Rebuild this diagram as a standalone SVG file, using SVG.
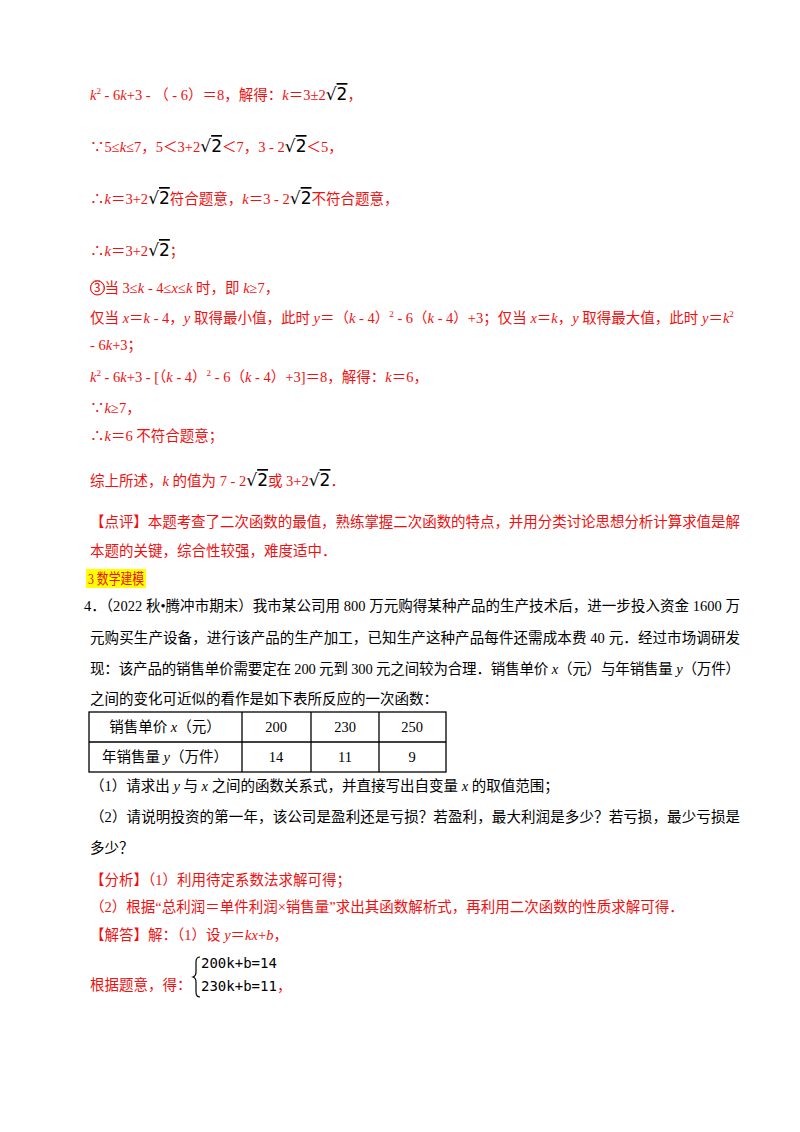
<svg xmlns="http://www.w3.org/2000/svg" width="800" height="1132" viewBox="0 0 800 1132">
<style>
text{font-family:"Liberation Serif","Noto Sans CJK SC",serif;font-size:14.5px;fill:#000}
.r{fill:#f01010}
.i{font-style:italic}
.sq{fill:#000;font-family:"DejaVu Sans",sans-serif;font-size:17px}
.ov{fill:#000;font-family:"DejaVu Sans",sans-serif;font-size:17px;text-decoration:overline}
.cell{fill:none;stroke:#000;stroke-width:1.3}
.eq{font-family:"DejaVu Sans Mono",monospace;font-size:14px}
</style>
<rect width="800" height="1132" fill="#fff"/>
<g id="solution-part1">
<text class="r" x="90" y="100"><tspan class="i">k</tspan><tspan font-size="9" dy="-6">2</tspan><tspan dy="6"> - 6</tspan><tspan class="i">k</tspan>+3 - （ - 6）＝8，解得：<tspan class="i">k</tspan>＝3±2<tspan class="sq">√</tspan><tspan class="ov">2</tspan>，</text>
<text class="r" x="90" y="152">∵5≤<tspan class="i">k</tspan>≤7，5＜3+2<tspan class="sq">√</tspan><tspan class="ov">2</tspan>＜7，3 - 2<tspan class="sq">√</tspan><tspan class="ov">2</tspan>＜5，</text>
<text class="r" x="90" y="204">∴<tspan class="i">k</tspan>＝3+2<tspan class="sq">√</tspan><tspan class="ov">2</tspan>符合题意，<tspan class="i">k</tspan>＝3 - 2<tspan class="sq">√</tspan><tspan class="ov">2</tspan>不符合题意，</text>
<text class="r" x="90" y="256">∴<tspan class="i">k</tspan>＝3+2<tspan class="sq">√</tspan><tspan class="ov">2</tspan>；</text>
<text class="r" x="90" y="293">③当 3≤<tspan class="i">k</tspan> - 4≤<tspan class="i">x</tspan>≤<tspan class="i">k</tspan> 时，即 <tspan class="i">k</tspan>≥7，</text>
<circle cx="97.5" cy="288" r="7" fill="none" stroke="#f01010" stroke-width="1"/>
<text class="r" x="90" y="323">仅当 <tspan class="i">x</tspan>＝<tspan class="i">k</tspan> - 4，<tspan class="i">y</tspan> 取得最小值，此时 <tspan class="i">y</tspan>＝（<tspan class="i">k</tspan> - 4）<tspan font-size="9" dy="-6">2</tspan><tspan dy="6"> - 6（</tspan><tspan class="i">k</tspan> - 4）+3；仅当 <tspan class="i">x</tspan>＝<tspan class="i">k</tspan>，<tspan class="i">y</tspan> 取得最大值，此时 <tspan class="i">y</tspan>＝<tspan class="i">k</tspan><tspan font-size="9" dy="-6">2</tspan></text>
<text class="r" x="90" y="350"> - 6<tspan class="i">k</tspan>+3；</text>
<text class="r" x="90" y="382"><tspan class="i">k</tspan><tspan font-size="9" dy="-6">2</tspan><tspan dy="6"> - 6</tspan><tspan class="i">k</tspan>+3 - [（<tspan class="i">k</tspan> - 4）<tspan font-size="9" dy="-6">2</tspan><tspan dy="6"> - 6（</tspan><tspan class="i">k</tspan> - 4）+3]＝8，解得：<tspan class="i">k</tspan>＝6，</text>
<text class="r" x="90" y="413">∵<tspan class="i">k</tspan>≥7，</text>
<text class="r" x="90" y="441">∴<tspan class="i">k</tspan>＝6 不符合题意；</text>
<text class="r" x="90" y="486">综上所述，<tspan class="i">k</tspan> 的值为 7 - 2<tspan class="sq">√</tspan><tspan class="ov">2</tspan>或 3+2<tspan class="sq">√</tspan><tspan class="ov">2</tspan>．</text>
<text class="r" x="90" y="527" textLength="650" lengthAdjust="spacing">【点评】本题考查了二次函数的最值，熟练掌握二次函数的特点，并用分类讨论思想分析计算求值是解</text>
<text class="r" x="90" y="556">本题的关键，综合性较强，难度适中．</text>
</g>
<g id="heading">
<rect x="86" y="569" width="60" height="19" fill="#ffff00"/>
<text class="r" x="88" y="584" textLength="56" lengthAdjust="spacingAndGlyphs">3 数学建模</text>
</g>
<g id="question4">
<text x="84" y="611" textLength="656" lengthAdjust="spacing">4．（2022 秋•腾冲市期末）我市某公司用 800 万元购得某种产品的生产技术后，进一步投入资金 1600 万</text>
<text x="90" y="643" textLength="650" lengthAdjust="spacing">元购买生产设备，进行该产品的生产加工，已知生产这种产品每件还需成本费 40 元．经过市场调研发</text>
<text x="90" y="674" textLength="650" lengthAdjust="spacing">现：该产品的销售单价需要定在 200 元到 300 元之间较为合理．销售单价 <tspan class="i">x</tspan>（元）与年销售量 <tspan class="i">y</tspan>（万件）</text>
<text x="90" y="704">之间的变化可近似的看作是如下表所反应的一次函数：</text>
</g>
<g id="table">
<rect class="cell" x="89" y="712" width="357" height="60"/>
<line class="cell" x1="89" y1="742" x2="446" y2="742"/>
<line class="cell" x1="242" y1="712" x2="242" y2="772"/>
<line class="cell" x1="311" y1="712" x2="311" y2="772"/>
<line class="cell" x1="379" y1="712" x2="379" y2="772"/>
<text x="165" y="732" text-anchor="middle">销售单价 <tspan class="i">x</tspan>（元）</text>
<text x="165" y="762" text-anchor="middle">年销售量 <tspan class="i">y</tspan>（万件）</text>
<text x="276" y="732" text-anchor="middle">200</text>
<text x="345" y="732" text-anchor="middle">230</text>
<text x="412" y="732" text-anchor="middle">250</text>
<text x="276" y="762" text-anchor="middle">14</text>
<text x="345" y="762" text-anchor="middle">11</text>
<text x="412" y="762" text-anchor="middle">9</text>
</g>
<g id="subquestions">
<text x="90" y="791">（1）请求出 <tspan class="i">y</tspan> 与 <tspan class="i">x</tspan> 之间的函数关系式，并直接写出自变量 <tspan class="i">x</tspan> 的取值范围；</text>
<text x="90" y="822" textLength="650" lengthAdjust="spacing">（2）请说明投资的第一年，该公司是盈利还是亏损？若盈利，最大利润是多少？若亏损，最少亏损是</text>
<text x="90" y="853">多少？</text>
</g>
<g id="analysis">
<text class="r" x="90" y="885">【分析】（1）利用待定系数法求解可得；</text>
<text class="r" x="90" y="912">（2）根据“总利润＝单件利润×销售量”求出其函数解析式，再利用二次函数的性质求解可得．</text>
<text class="r" x="90" y="940">【解答】解：（1）设 <tspan class="i">y</tspan>＝<tspan class="i">kx</tspan>+<tspan class="i">b</tspan>，</text>
<text class="r" x="90" y="990">根据题意，得：</text>
<path d="M200,957 q-4,0 -4,5 v10 q0,4 -3,5 q3,1 3,5 v10 q0,5 4,5" fill="none" stroke="#000" stroke-width="1.2"/>
<text class="eq" x="201" y="968">200k+b=14</text>
<text class="eq" x="201" y="991">230k+b=11</text>
<text class="r" x="277" y="991">，</text>
</g>
</svg>
